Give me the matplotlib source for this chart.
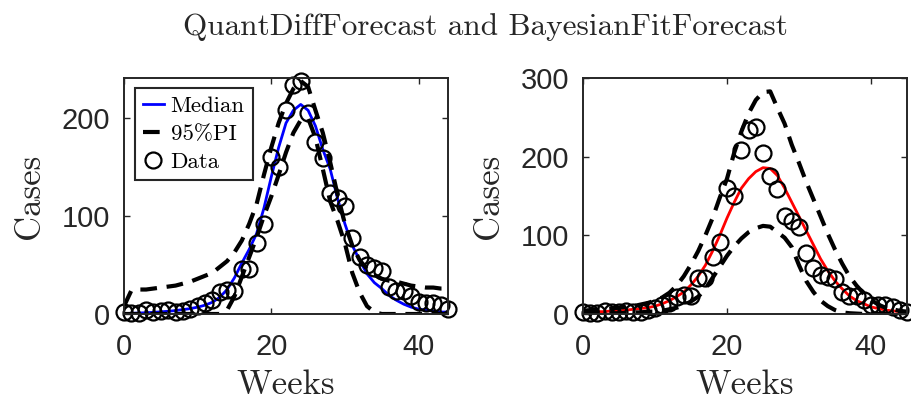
import matplotlib
matplotlib.use('Agg')
import matplotlib.pyplot as plt

plt.rcParams['lines.scale_dashes'] = False
plt.rcParams['axes.unicode_minus'] = False

# ---------------- data ----------------
weeks = list(range(46))
cases = [2, 1, 1, 4, 2, 3, 4, 2, 3, 5,
         8, 11, 14, 22, 24, 23, 46, 46, 72, 92,
         160, 150, 208, 234, 238, 205, 176, 159, 124, 118,
         110, 78, 58, 50, 47, 44, 28, 23, 23, 18,
         12, 11, 11, 9, 5, 3]

# QuantDiffForecast (weeks 0..44)
qd_median = [0.5, 0.7, 1, 1.3, 1.7, 2.2, 2.8, 3.5, 4.5, 5.5,
             7, 9, 12, 17, 25, 37, 52, 66, 82, 108,
             140, 170, 195, 208, 214, 208, 192, 168, 148, 118,
             92, 70, 55, 41, 32, 26, 19, 14, 10, 7,
             5, 4, 3, 2, 2]
qd_upper = [8, 24, 25, 25, 26, 27, 28, 29, 31, 33,
            36, 39, 42, 48, 54, 63, 75, 92, 112, 142,
            170, 195, 215, 230, 238, 232, 208, 185, 155, 122,
            92, 70, 55, 46, 40, 36, 34, 33, 31, 29,
            28, 27, 27, 26, 26]
qd_lower = [0, 0, 0, 0, 0, 0, 0, 0, 0, 0,
            0, 0, 0, 0, 4, 18, 38, 58, 78, 100,
            120, 142, 165, 185, 198, 200, 180, 148, 115, 95,
            72, 42, 22, 8, 2, 0, 0, 0, 0, 0,
            0, 0, 0, 0, 0]

# BayesianFitForecast (weeks 0..45)
bf_median = [2, 2, 3, 3, 4, 4, 5, 6, 7, 8,
             10, 13, 17, 22, 28, 37, 48, 62, 80, 100,
             122, 142, 160, 172, 181, 186, 185, 176, 160, 142,
             124, 106, 88, 70, 55, 42, 32, 23, 17, 13,
             9, 7, 5, 4, 3, 3]
bf_upper = [4, 5, 5, 6, 7, 8, 9, 10, 12, 14,
            17, 21, 27, 36, 48, 63, 80, 100, 122, 148,
            172, 205, 232, 255, 272, 282, 283, 262, 242, 215,
            192, 168, 146, 124, 102, 82, 64, 48, 36, 26,
            18, 12, 8, 6, 4, 3]
bf_lower = [0, 0, 0.5, 0.5, 1, 1, 1.5, 2, 2, 3,
            3, 4, 6, 8, 11, 16, 22, 32, 46, 60,
            74, 86, 96, 104, 109, 112, 111, 104, 97, 85,
            62, 42, 28, 17, 10, 5, 2, 1, 0.5, 0,
            0, 0, 0, 0, 0, 0]

title = 'QuantDiffForecast and BayesianFitForecast'
xticks = [0, 20, 40]
yticks_left = [0, 100, 200]
yticks_right = [0, 100, 200, 300]

# ---------------- figure ----------------
fig = plt.figure(figsize=(9.12, 4.01), dpi=100)
ax1 = fig.add_axes([124 / 912, 87 / 401, 324 / 912, 236 / 401])
ax2 = fig.add_axes([583 / 912, 87 / 401, 324 / 912, 236 / 401])

serif = 'cmr10'
tickfont = 'Liberation Sans'
dash = (12, 7)
axcol = '#262626'


def style(ax, xlim, ylim, yticks):
    ax.set_xlim(*xlim)
    ax.set_ylim(*ylim)
    ax.set_xticks(xticks)
    ax.set_yticks(yticks)
    ax.tick_params(direction='in', top=True, right=True, length=4,
                   width=1.0, color=axcol, labelsize=21, labelcolor=axcol)
    ax.tick_params(axis='x', pad=14)
    ax.tick_params(axis='y', pad=10)
    for lab in ax.get_xticklabels() + ax.get_yticklabels():
        lab.set_fontfamily(tickfont)
    for s in ax.spines.values():
        s.set_color(axcol)
        s.set_linewidth(1.4)
    ax.set_xlabel('Weeks', fontfamily=serif, fontsize=25, va='center',
                  color=axcol)
    ax.set_ylabel('Cases', fontfamily=serif, fontsize=25, va='center',
                  color=axcol)
    ax.xaxis.set_label_coords(0.5, -0.30)
    ax.yaxis.set_label_coords(-0.29, 0.5)


n1 = len(qd_median)
h_med, = ax1.plot(weeks[:n1], qd_median, color=(0, 0, 1), lw=2.0,
                  label='Median')
h_pi, = ax1.plot(weeks[:n1], qd_upper, color='k', lw=3.0, dashes=dash,
                 label='95%PI')
ax1.plot(weeks[:n1], qd_lower, color='k', lw=3.0, dashes=dash)
h_dat, = ax1.plot(weeks[:n1], cases[:n1], 'o', mfc='none', mec='k',
                  ms=11.5, mew=1.6, clip_on=False, label='Data')
style(ax1, (0, 44), (0, 241), yticks_left)

leg = ax1.legend(handles=[h_med, h_pi, h_dat], loc='upper left',
                 bbox_to_anchor=(0.034, 0.958), borderaxespad=0,
                 prop={'family': serif, 'size': 16.5}, fancybox=False,
                 framealpha=1, edgecolor=axcol, handlelength=0.9,
                 handletextpad=0.3, labelspacing=0.35, borderpad=0.35)
leg.get_frame().set_linewidth(1.5)

n2 = len(bf_median)
ax2.plot(weeks[:n2], bf_median, color=(1, 0, 0), lw=2.0)
ax2.plot(weeks[:n2], bf_upper, color='k', lw=3.0, dashes=dash)
ax2.plot(weeks[:n2], bf_lower, color='k', lw=3.0, dashes=dash)
ax2.plot(weeks[:n2], cases[:n2], 'o', mfc='none', mec='k',
         ms=11.5, mew=1.6, clip_on=False)
style(ax2, (0, 45), (0, 300), yticks_right)

fig.text(485 / 912, 1 - 27 / 401, title, fontfamily=serif, fontsize=22.5,
         ha='center', va='center', color=axcol)

fig.savefig('out.png', dpi=100)
